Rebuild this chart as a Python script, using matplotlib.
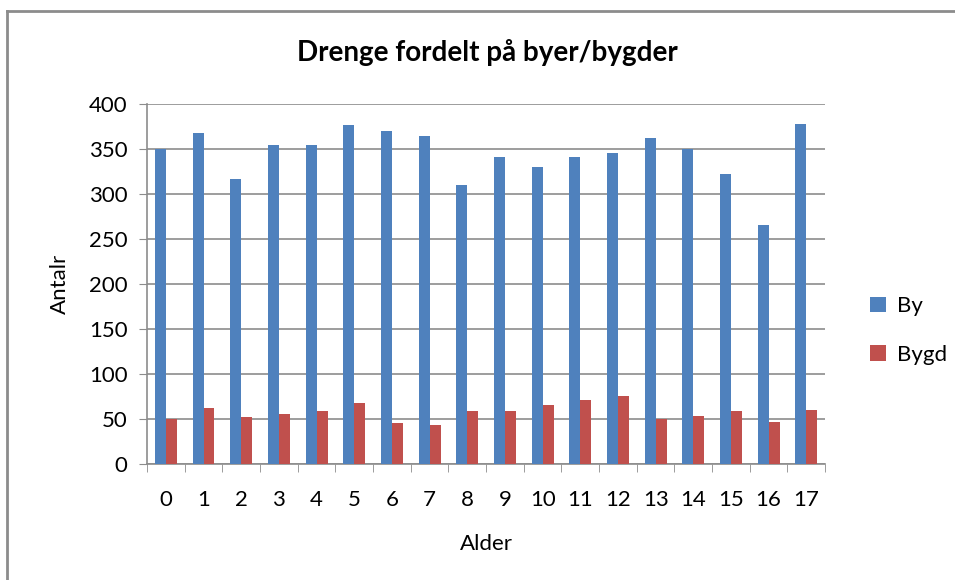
import matplotlib.pyplot as plt
import numpy as np
from matplotlib.lines import Line2D

# ages 0..17
alder = list(range(18))
by_vals = [350, 368, 317, 354, 354, 377, 370, 364, 310, 341, 330, 341, 345, 362, 350, 322, 265, 378]
bygd_vals = [50, 62, 52, 55, 59, 68, 46, 43, 59, 59, 66, 71, 75, 50, 53, 59, 47, 60]
series_names = ["By", "Bygd"]
colors = ["#4F81BD", "#C0504D"]

plt.rcParams["font.family"] = ["Lato", "DejaVu Sans"]

fig = plt.figure(figsize=(9.55, 5.8), dpi=100)
# chart frame: only the top and left edges fall inside the picture
fig.lines.append(Line2D([0.007, 1.0], [0.981, 0.981], transform=fig.transFigure,
                        color="#8c8c8c", linewidth=2))
fig.lines.append(Line2D([0.007, 0.007], [0.0, 0.981], transform=fig.transFigure,
                        color="#8c8c8c", linewidth=2))

ax = fig.add_axes([0.154, 0.2, 0.71, 0.621])

x = np.arange(len(alder))
w = 0.29
ax.bar(x - w / 2, by_vals, width=w, color=colors[0], label=series_names[0], zorder=3)
ax.bar(x + w / 2, bygd_vals, width=w, color=colors[1], label=series_names[1], zorder=3)

ax.set_xlim(-0.5, len(alder) - 0.5)
ax.set_ylim(0, 400)
ax.set_yticks(range(0, 401, 50))
ax.yaxis.grid(True, color="#8c8c8c", linewidth=1.2, zorder=0)
ax.set_axisbelow(True)

# category labels centred, tick marks between categories
ax.set_xticks(x)
ax.set_xticklabels([str(a) for a in alder])
ax.set_xticks(np.arange(-0.5, len(alder)), minor=True)
ax.tick_params(axis="x", which="major", length=0, labelsize=16, pad=19)
ax.tick_params(axis="x", which="minor", length=6, color="#8c8c8c", direction="out")
ax.tick_params(axis="y", length=6, color="#8c8c8c", labelsize=16, direction="out", pad=8)

for side in ["top", "right"]:
    ax.spines[side].set_visible(False)
for side in ["left", "bottom"]:
    ax.spines[side].set_color("#8c8c8c")
    ax.spines[side].set_linewidth(1.2)

ax.set_xlabel("Alder", fontsize=16, labelpad=17)
ax.set_ylabel("Antalr", fontsize=16, labelpad=14)
fig.text(0.51, 0.91, "Drenge fordelt på byer/bygder", ha="center", va="center",
         fontsize=20, fontweight="bold")

fig.legend(loc="center left", bbox_to_anchor=(0.89, 0.43), frameon=False,
           fontsize=16, handlelength=0.7, handleheight=0.7, labelspacing=1.3,
           handletextpad=0.5)

fig.savefig("out.png", dpi=100)
